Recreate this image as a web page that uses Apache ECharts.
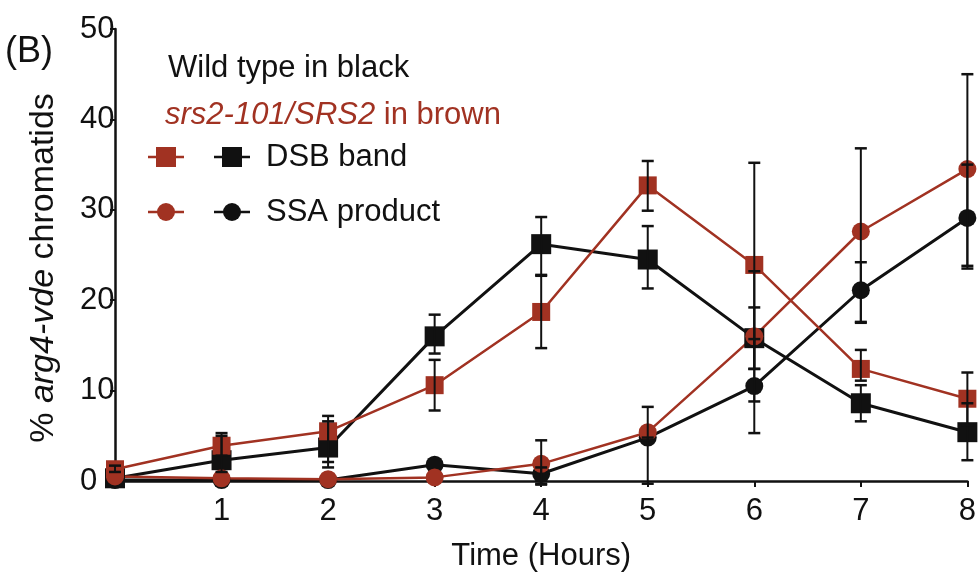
<!DOCTYPE html>
<html>
<head>
<meta charset="utf-8">
<script src="https://cdn.jsdelivr.net/npm/echarts@6/dist/echarts.min.js"></script>
<style>
  html, body { margin: 0; padding: 0; background: #ffffff; }
  #chart { width: 979px; height: 577px; }
</style>
</head>
<body>
<div id="chart"></div>
<script>
// Time points (hours) and axis ticks
const hours = [0, 1, 2, 3, 4, 5, 6, 7, 8];
const yTicks = [0, 10, 20, 30, 40, 50];

// Wild type (black): DSB band, mean and error range
const wtDsb   = [0.3, 2.3, 3.7, 16.0, 26.2, 24.5, 15.8, 8.6, 5.4];
const wtDsbLo = [null, 1.0, 1.5, 14.1, 22.8, 21.3, 12.4, 6.6, 2.3];
const wtDsbHi = [null, 5.3, 6.6, 18.4, 29.2, 28.2, 19.2, 10.6, 8.6];

// Wild type (black): SSA product
const wtSsa   = [0.1, 0.1, 0.1, 1.8, 0.8, 4.8, 10.5, 21.1, 29.1];
const wtSsaLo = [null, null, null, null, -0.3, -0.3, 5.3, 17.6, 23.5];
const wtSsaHi = [null, null, null, null, 1.5, 4.8, 15.7, 24.2, 35.0];

// srs2-101/SRS2 (brown): DSB band
const srsDsb   = [1.3, 3.9, 5.5, 10.6, 18.7, 32.7, 23.9, 12.4, 9.1];
const srsDsbLo = [1.0, 2.8, 2.1, 7.8, 14.7, 29.9, 12.4, 11.1, 6.2];
const srsDsbHi = [1.7, 5.0, 7.2, 13.4, 22.7, 35.4, 35.2, 14.5, 12.0];

// srs2-101/SRS2 (brown): SSA product
const srsSsa   = [0.5, 0.3, 0.2, 0.4, 1.9, 5.4, 16.0, 27.6, 34.5];
const srsSsaLo = [null, null, null, null, -0.4, 4.5, 8.8, 17.5, 23.8];
const srsSsaHi = [null, null, null, null, 4.5, 8.2, 23.2, 36.8, 45.0];

const BLACK = '#111111';
const BROWN = '#a13222';
const FONT = '"Liberation Sans", Arial, sans-serif';
const FS = 31;

function pairs(vals) {
  return hours.map((h, i) => [h, vals[i]]);
}

function lineSeries(name, vals, color, symbol, size, width) {
  return {
    name: name,
    type: 'line',
    data: pairs(vals),
    symbol: symbol,
    symbolSize: size,
    showSymbol: true,
    lineStyle: { color: color, width: width },
    itemStyle: { color: color },
    emphasis: { disabled: true },
    z: 3
  };
}

function errorSeries(lo, hi) {
  const data = [];
  hours.forEach((h, i) => {
    if (lo[i] != null) data.push([h, lo[i], hi[i]]);
  });
  return {
    type: 'custom',
    data: data,
    encode: { x: 0, y: [1, 2] },
    clip: false,
    z: 10,
    silent: true,
    renderItem: function (params, api) {
      const x = api.value(0);
      const a = api.coord([x, api.value(1)]);
      const b = api.coord([x, api.value(2)]);
      const w = 6;
      return {
        type: 'group',
        children: [
          { type: 'line', shape: { x1: a[0], y1: a[1], x2: b[0], y2: b[1] }, style: { stroke: BLACK, lineWidth: 2 } },
          { type: 'line', shape: { x1: a[0] - w, y1: a[1], x2: a[0] + w, y2: a[1] }, style: { stroke: BLACK, lineWidth: 2.5 } },
          { type: 'line', shape: { x1: b[0] - w, y1: b[1], x2: b[0] + w, y2: b[1] }, style: { stroke: BLACK, lineWidth: 2.5 } }
        ]
      };
    }
  };
}

// Key in the upper-left of the plot: a line with its marker per row
function keyRow(y, color, symbol, cx) {
  const items = [
    { type: 'line', shape: { x1: cx - 18, y1: y, x2: cx + 18, y2: y }, style: { stroke: color, lineWidth: 2.5 } }
  ];
  if (symbol === 'rect') {
    items.push({ type: 'rect', shape: { x: cx - 10, y: y - 10, width: 20, height: 20 }, style: { fill: color } });
  } else {
    items.push({ type: 'circle', shape: { cx: cx, cy: y, r: 9 }, style: { fill: color } });
  }
  return items;
}

const graphics = [
  { type: 'text', left: 5, top: 34, style: { text: '(B)', font: '36px ' + FONT, fill: BLACK } },
  { type: 'text', left: 168, top: 53, style: { text: 'Wild type in black', font: FS + 'px ' + FONT, fill: BLACK } },
  { type: 'text', left: 165, top: 100, style: {
      text: '{i|srs2-101/SRS2} in brown', font: FS + 'px ' + FONT, fill: BROWN,
      rich: { i: { fontStyle: 'italic', fontSize: FS, fontFamily: FONT, fill: BROWN } }
  } },
  { type: 'text', left: 266, top: 142, style: { text: 'DSB band', font: FS + 'px ' + FONT, fill: BLACK } },
  { type: 'text', left: 266, top: 197, style: { text: 'SSA product', font: FS + 'px ' + FONT, fill: BLACK } }
]
  .concat(keyRow(157, BROWN, 'rect', 166))
  .concat(keyRow(157, BLACK, 'rect', 232))
  .concat(keyRow(212, BROWN, 'circle', 166))
  .concat(keyRow(212, BLACK, 'circle', 232));

const chart = echarts.init(document.getElementById('chart'));
chart.setOption({
  animation: false,
  backgroundColor: '#ffffff',
  grid: { left: 115, right: 5, top: 29, bottom: 88 },
  xAxis: {
    type: 'value',
    min: 0, max: 8, interval: 1,
    name: 'Time (Hours)',
    nameLocation: 'middle',
    nameGap: 60,
    nameTextStyle: { fontSize: FS, fontFamily: FONT, color: BLACK },
    axisLine: { show: true, onZero: false, lineStyle: { color: BLACK, width: 2.5 } },
    axisTick: { show: true, length: 6, lineStyle: { color: BLACK, width: 2 } },
    axisLabel: {
      fontSize: FS, fontFamily: FONT, color: BLACK, margin: 15,
      formatter: v => (v === 0 ? '' : String(v))
    },
    splitLine: { show: false }
  },
  yAxis: {
    type: 'value',
    min: yTicks[0], max: yTicks[yTicks.length - 1], interval: 10,
    name: '% {i|arg4-vde} chromatids',
    nameLocation: 'middle',
    nameGap: 54,
    nameRotate: 90,
    nameTextStyle: {
      fontSize: 34, fontFamily: FONT, color: BLACK,
      padding: [0, 26, 0, 0],
      rich: { i: { fontStyle: 'italic', fontSize: 34, fontFamily: FONT, color: BLACK } }
    },
    axisLine: { show: true, lineStyle: { color: BLACK, width: 2.5 } },
    axisTick: { show: true, length: 5, lineStyle: { color: BLACK, width: 2 } },
    axisLabel: { fontSize: FS, fontFamily: FONT, color: BLACK, margin: 35, align: 'left' },
    splitLine: { show: false }
  },
  series: [
    lineSeries('WT DSB', wtDsb, BLACK, 'rect', 20, 3),
    lineSeries('WT SSA', wtSsa, BLACK, 'circle', 18, 3),
    lineSeries('srs2 DSB', srsDsb, BROWN, 'rect', 18, 2.5),
    lineSeries('srs2 SSA', srsSsa, BROWN, 'circle', 18, 2.5),
    errorSeries(wtDsbLo, wtDsbHi),
    errorSeries(wtSsaLo, wtSsaHi),
    errorSeries(srsDsbLo, srsDsbHi),
    errorSeries(srsSsaLo, srsSsaHi)
  ],
  graphic: graphics
});
</script>
</body>
</html>
